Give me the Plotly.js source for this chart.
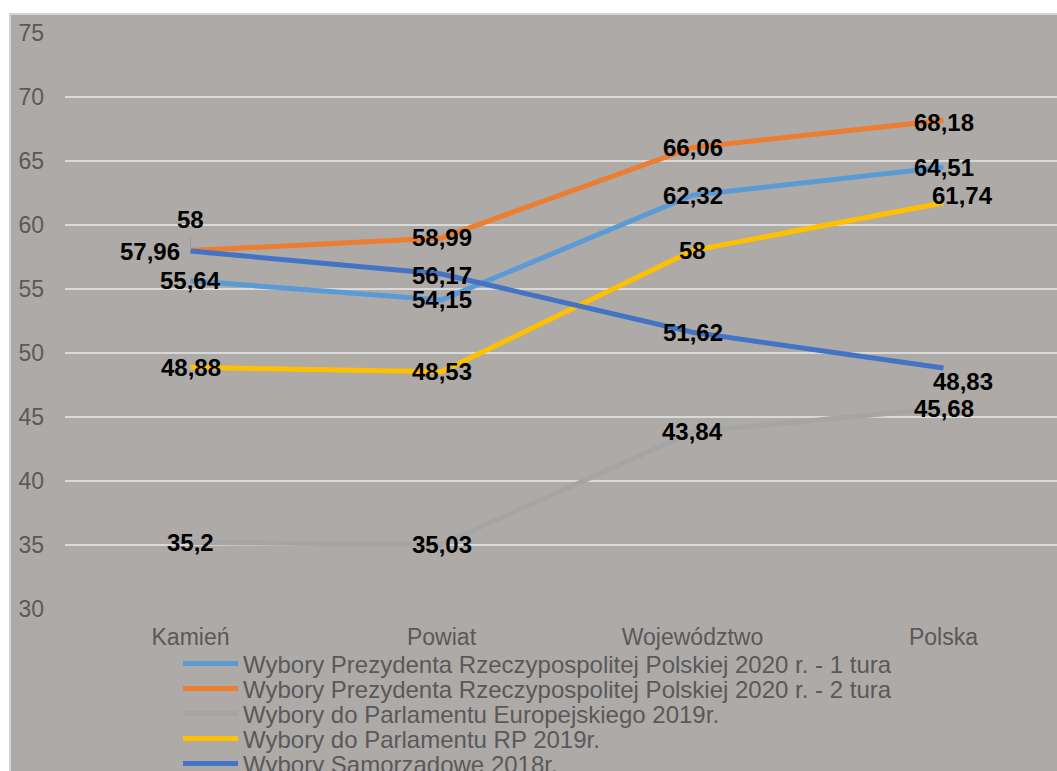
<!DOCTYPE html>
<html>
<head>
<meta charset="utf-8">
<script src="https://cdn.plot.ly/plotly-3.0.1.min.js"></script>
<style>
html,body{margin:0;padding:0;background:#fff;overflow:hidden;}
#chart{width:1057px;height:771px;}
</style>
</head>
<body>
<div id="chart"></div>
<script>
// ---- data ----
const categories = ['Kamień', 'Powiat', 'Województwo', 'Polska'];
const seriesNames = [
  'Wybory Prezydenta Rzeczypospolitej Polskiej 2020 r. - 1 tura',
  'Wybory Prezydenta Rzeczypospolitej Polskiej 2020 r. - 2 tura',
  'Wybory do Parlamentu Europejskiego 2019r.',
  'Wybory do Parlamentu RP 2019r.',
  'Wybory Samorządowe 2018r.'
];
const prez1 = [55.64, 54.15, 62.32, 64.51];
const prez2 = [58, 58.99, 66.06, 68.18];
const euro2019 = [35.2, 35.03, 43.84, 45.68];
const sejm2019 = [48.88, 48.53, 58, 61.74];
const samorz2018 = [57.96, 56.17, 51.62, 48.83];
const yTicks = [30, 35, 40, 45, 50, 55, 60, 65, 70, 75];

// ---- styles ----
const seriesValues = [prez1, prez2, euro2019, sejm2019, samorz2018];
const colors = ['#5B9BD5', '#ED7D31', '#A5A5A5', '#FFC000', '#4472C4'];
// label pixel offsets [series][point] = [xshift, yshift]
const labelShift = [
  [[0,0],[0,0],[0,0],[0,0]],
  [[0,31],[0,0],[0,0],[0,-2]],
  [[0,0],[0,0],[0,0],[0,0]],
  [[0,0],[0,0],[0,0],[19,7]],
  [[-41,0],[0,-1],[0,0],[19,-14]]
];
const FONT = 'Liberation Sans, Arial, sans-serif';
const legendRowsPx = [664, 689, 714, 739, 764];
const plotTop = 33, plotBottom = 609, plotLeft = 65, W = 1057, H = 771;
const plotH = plotBottom - plotTop, plotW = W - plotLeft;

const traces = seriesValues.map((vals, i) => ({
  type: 'scatter',
  mode: 'lines',
  x: categories,
  y: vals,
  name: seriesNames[i],
  line: {color: colors[i], width: 5},
  hoverinfo: 'skip',
  legend: i === 0 ? 'legend' : 'legend' + (i + 1)
}));

const annotations = [];
seriesValues.forEach((vals, i) => {
  vals.forEach((v, j) => {
    annotations.push({
      x: categories[j], y: v, xref: 'x', yref: 'y',
      text: String(v).replace('.', ','),
      showarrow: false,
      xshift: labelShift[i][j][0], yshift: labelShift[i][j][1],
      font: {family: FONT, size: 24, color: '#000000', weight: 'bold'}
    });
  });
});

const layout = {
  width: W, height: H,
  margin: {l: plotLeft, r: 0, t: plotTop, b: H - plotBottom, autoexpand: false},
  paper_bgcolor: '#ffffff',
  plot_bgcolor: 'rgba(0,0,0,0)',
  showlegend: true,
  xaxis: {
    type: 'category',
    range: [-0.5, -0.5 + plotW / 251],
    showgrid: false, zeroline: false, showline: false,
    ticks: '',
    ticklabelstandoff: 12,
    tickfont: {family: FONT, size: 23, color: '#595959'},
    fixedrange: true
  },
  yaxis: {
    range: [30, 75],
    tickvals: yTicks,
    ticktext: yTicks.map(String),
    showgrid: true, gridcolor: '#D9D9D9', gridwidth: 2,
    zeroline: false, showline: false,
    ticks: '',
    ticklabelstandoff: 20,
    tickfont: {family: FONT, size: 23, color: '#595959'},
    fixedrange: true
  },
  shapes: [{
    type: 'rect', xref: 'paper', yref: 'paper', layer: 'below',
    x0: (10 - plotLeft) / plotW, x1: 1.05,
    y0: -0.4, y1: 1 + (plotTop - 14) / plotH,
    fillcolor: '#AEAAA8',
    line: {color: '#D4D4D4', width: 2}
  }, {
    // leader line of the "58" label
    type: 'line', xref: 'x', yref: 'y',
    x0: categories[0], x1: categories[0],
    y0: prez2[0], y1: prez2[0] + 1.0,
    line: {color: '#9A9A9A', width: 1}
  }],
  annotations: annotations
};

legendRowsPx.forEach((py, i) => {
  const key = i === 0 ? 'legend' : 'legend' + (i + 1);
  layout[key] = {
    x: (178 - plotLeft) / plotW,
    xanchor: 'left',
    y: (plotBottom - py) / plotH,
    yanchor: 'middle',
    bgcolor: 'rgba(0,0,0,0)',
    borderwidth: 0,
    itemwidth: 55,
    font: {family: FONT, size: 24, color: '#595959'},
    itemclick: false, itemdoubleclick: false
  };
});

Plotly.newPlot('chart', traces, layout, {displayModeBar: false, staticPlot: true});
</script>
</body>
</html>
